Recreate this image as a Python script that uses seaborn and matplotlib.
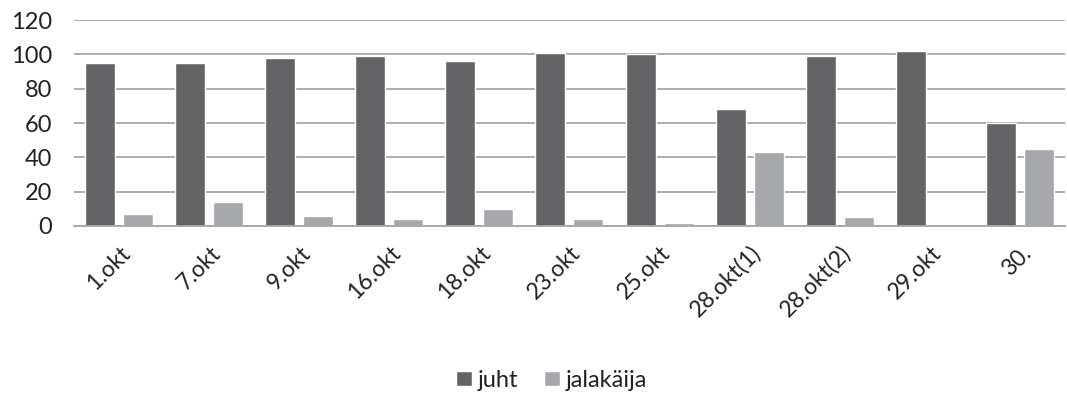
import matplotlib
matplotlib.use("Agg")
import matplotlib.pyplot as plt
import matplotlib.transforms as mtransforms
import seaborn as sns
import pandas as pd

categories = ["1.okt", "7.okt", "9.okt", "16.okt", "18.okt", "23.okt", "25.okt",
              "28.okt(1)", "28.okt(2)", "29.okt", "30."]
juht = [95, 95, 98, 99, 96, 101, 100, 68, 99, 102, 60]
jalakaija = [7, 14, 6, 4, 10, 4, 2, 43, 5, 0, 45]
series_names = ["juht", "jalakäija"]
colors = ["#646466", "#a7a8ab"]
yticks = [0, 20, 40, 60, 80, 100, 120]

df = pd.DataFrame({
    "kuupäev": categories * 2,
    "väärtus": juht + jalakaija,
    "seeria": [series_names[0]] * len(categories) + [series_names[1]] * len(categories),
})

sns.set_theme(style="white")
plt.rcParams["font.family"] = ["Lato", "DejaVu Sans"]

fig = plt.figure(figsize=(10.67, 3.94), dpi=100)
ax = fig.add_axes([0.0694, 0.4264, 0.9286, 0.5226])

sns.barplot(data=df, x="kuupäev", y="väärtus", hue="seeria", order=categories,
            hue_order=series_names, palette=colors, width=0.844, gap=0.21,
            saturation=1, ax=ax, zorder=2)

ax.set_ylim(0, 120)
ax.set_yticks(yticks)
ax.set_xlim(-0.5, len(categories) - 0.5)
ax.yaxis.grid(True, color="#a6a6a6", linewidth=1.3, zorder=0)
ax.set_axisbelow(True)
for s in ["top", "left", "right"]:
    ax.spines[s].set_visible(False)
ax.spines["bottom"].set_color("#a6a6a6")
ax.spines["bottom"].set_linewidth(1.3)
ax.spines["bottom"].set_zorder(3)
ax.set_xlabel("")
ax.set_ylabel("")
ax.tick_params(axis="y", length=0, pad=16, labelsize=17, labelcolor="#222222")
ax.tick_params(axis="x", length=0, pad=17, labelsize=16.5, labelcolor="#222222")
offset = mtransforms.ScaledTranslation(8 / 100, 0, fig.dpi_scale_trans)
for lab in ax.get_xticklabels():
    lab.set_rotation(45)
    lab.set_ha("right")
    lab.set_va("center")
    lab.set_rotation_mode("anchor")
    lab.set_transform(lab.get_transform() + offset)

handles, labels = ax.get_legend_handles_labels()
ax.get_legend().remove()
fig.legend(handles, labels, loc="center", bbox_to_anchor=(0.517, 0.035), ncol=2,
           frameon=False, fontsize=17, handlelength=0.65, handleheight=0.65,
           handletextpad=0.25, columnspacing=1.1, labelcolor="#222222")

fig.savefig("out.png", dpi=100)
